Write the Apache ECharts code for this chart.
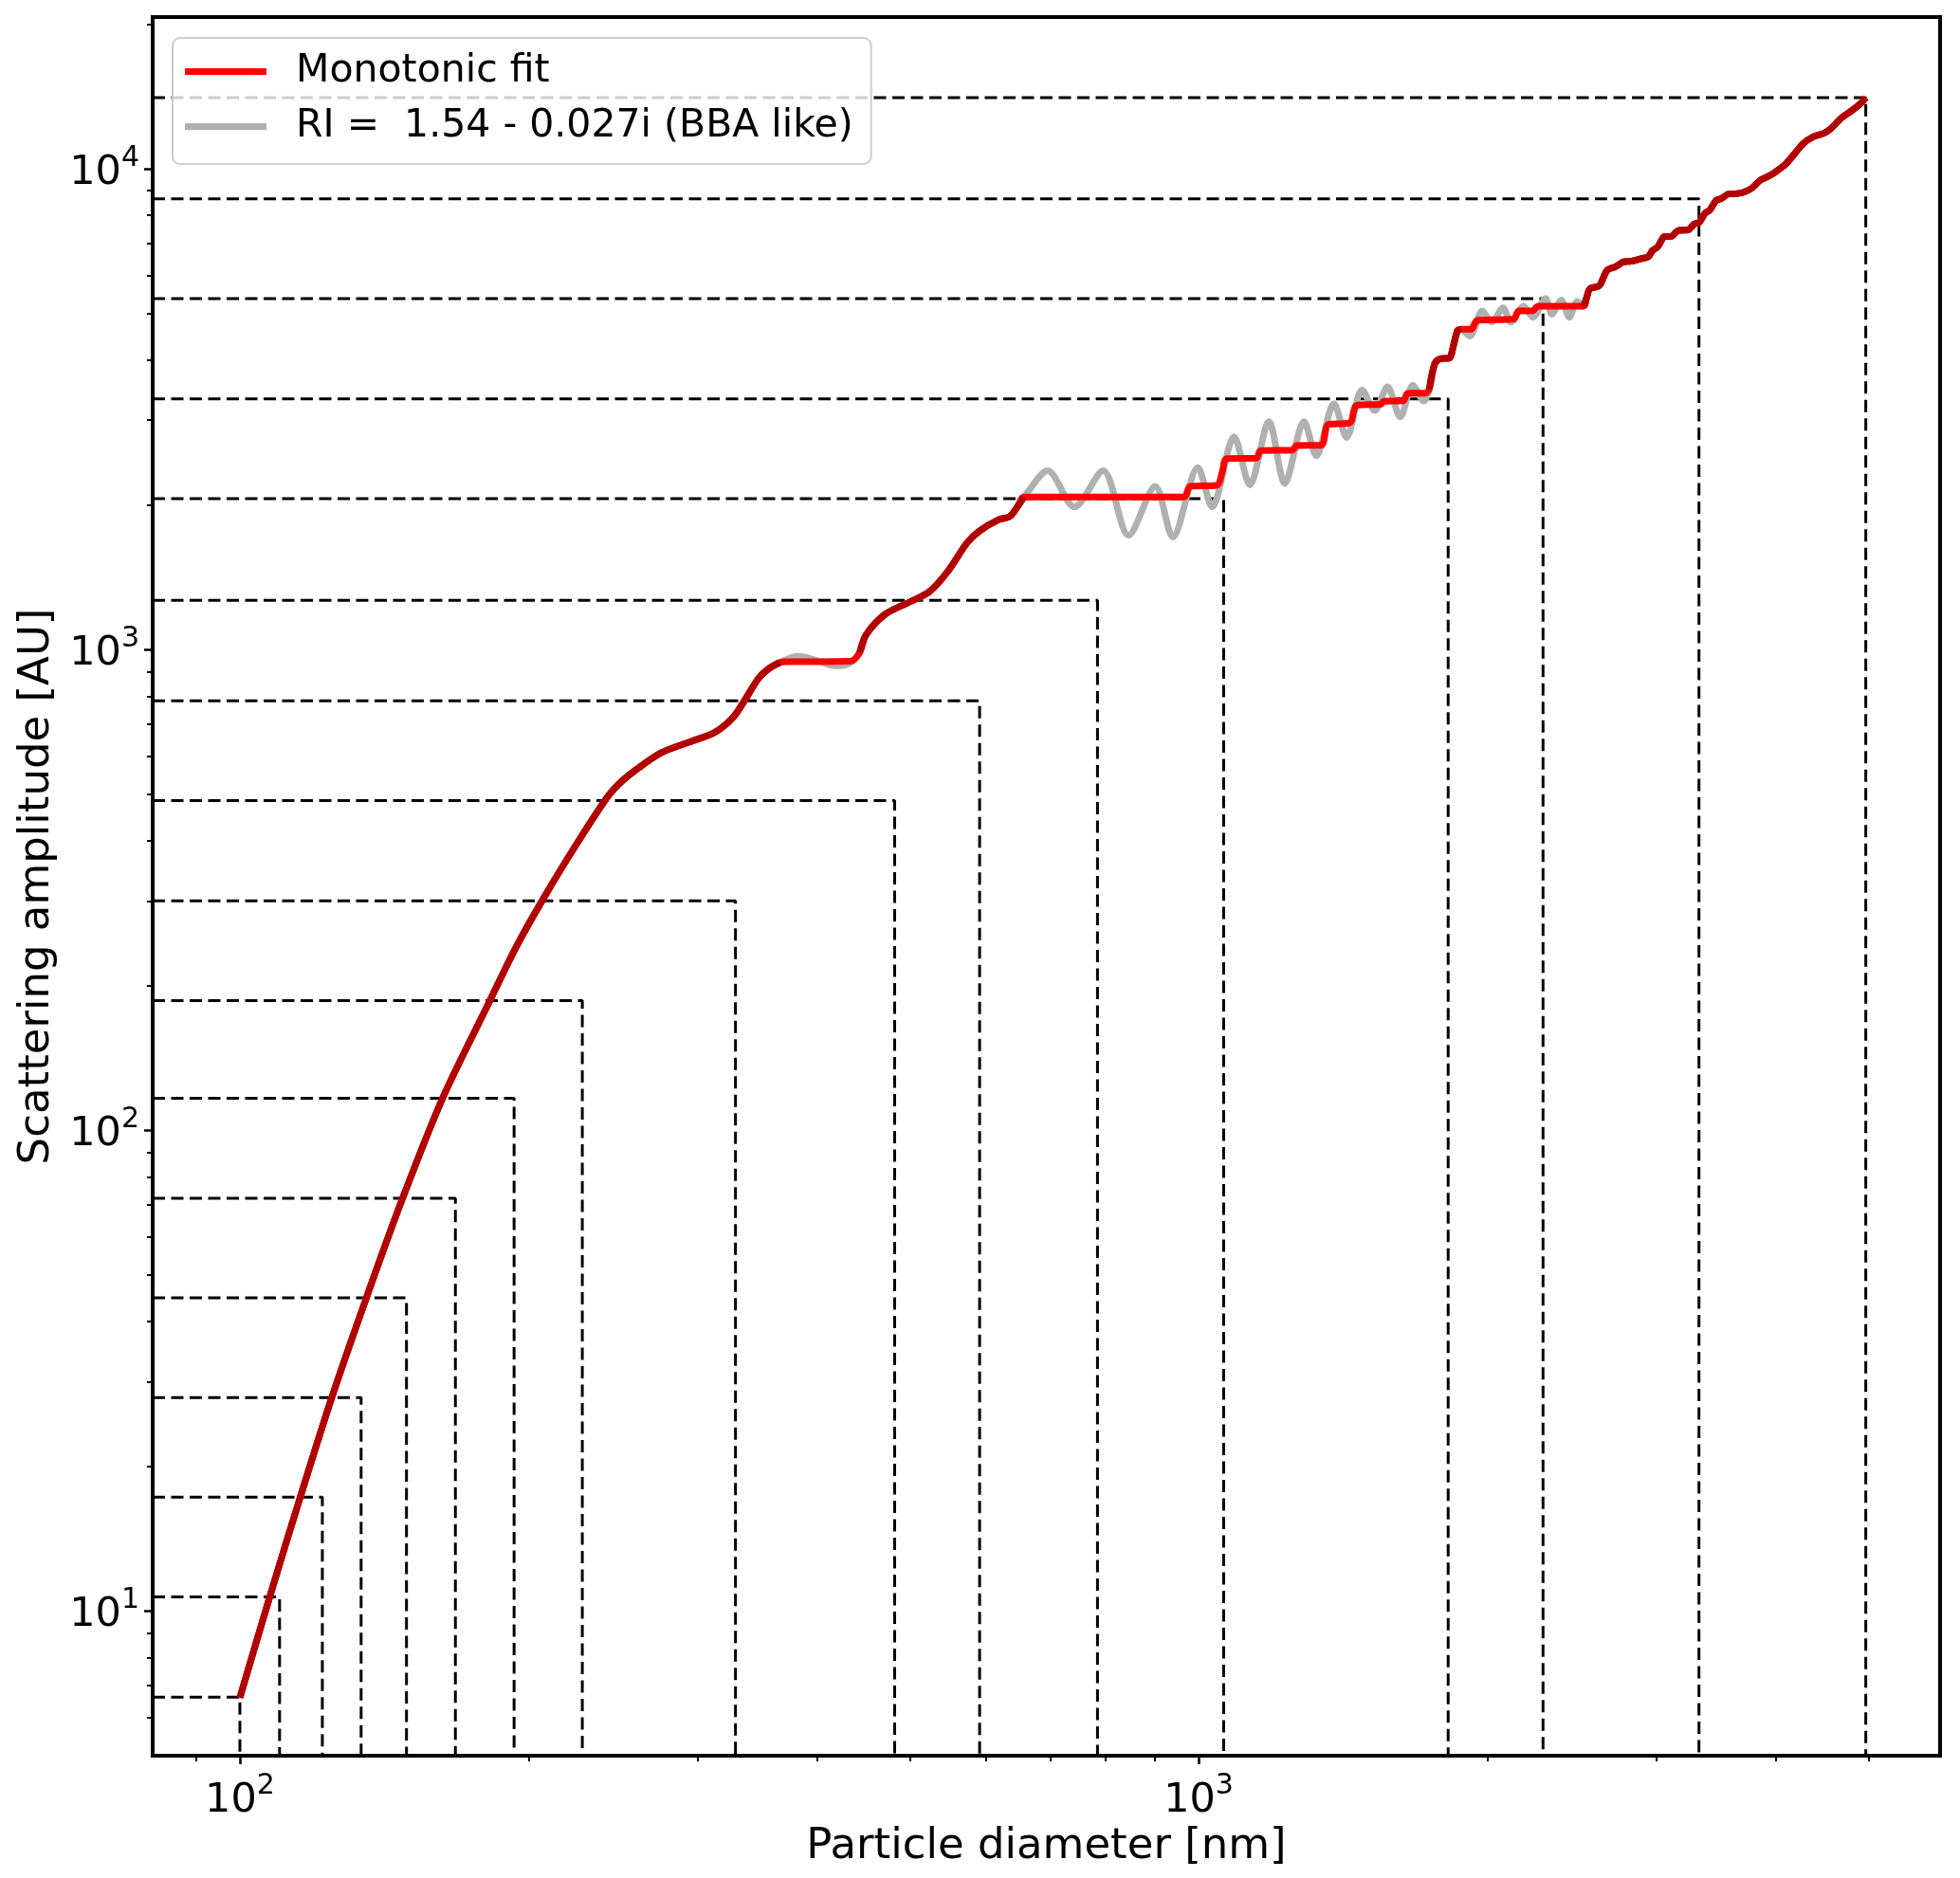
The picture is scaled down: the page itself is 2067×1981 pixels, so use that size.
<!DOCTYPE html>
<html>
<head>
<meta charset="utf-8">
<script src="https://cdn.jsdelivr.net/npm/echarts@6/dist/echarts.min.js"></script>
<style>
  html, body { margin: 0; padding: 0; background: #fff; }
  #chart { width: 2067px; height: 1981px; }
</style>
</head>
<body>
<div id="chart"></div>
<script>
// monotonic fit (red)
const fitDiam = [100, 107.5, 115.6, 124.7, 135.6, 147.9, 162.7, 182.3, 193.6, 207.4, 223.8, 241.3, 247.5, 254.6,
  274.7, 296.3, 312.6, 327, 337.2, 347.5, 357, 366, 372, 433, 443, 449.8, 470.8, 500.2, 523.6, 548.1, 573.6,
  591.3, 618.7, 635.3, 647, 657.5, 965, 980, 1044, 1058, 1070, 1149, 1160, 1253, 1266, 1342, 1366, 1437, 1462,
  1550, 1560, 1635, 1652, 1725, 1740, 1764, 1791, 1825, 1845, 1862, 1878, 1925, 1940, 1954, 2133, 2145, 2158,
  2233, 2246, 2259, 2520, 2540, 2559, 2618, 2645, 2669, 2720, 2772, 2825, 2889, 2944, 2975, 3010, 3040, 3058,
  3117, 3140, 3170, 3238, 3288, 3326, 3376, 3414, 3467, 3507, 3573, 3628, 3697, 3770, 3857, 3930, 4004, 4097,
  4192, 4273, 4371, 4487, 4557, 4680, 4805, 4897, 4965];
const fitAmp = [6.6, 10.75, 17.25, 27.8, 45, 72.4, 116.5, 186, 238, 304, 390, 491, 521, 548,
  609, 645, 672, 723, 792, 871, 915, 940, 943, 945, 985, 1072, 1183, 1257, 1318, 1458, 1668,
  1766, 1863, 1891, 1979, 2075, 2075, 2185, 2195, 2330, 2495, 2500, 2590, 2600, 2655, 2660, 2940, 2960, 3220,
  3240, 3285, 3290, 3410, 3415, 3480, 3940, 4030, 4035, 4300, 4600, 4640, 4640, 4760, 4840, 4870, 4980, 5060,
  5065, 5130, 5176, 5180, 5400, 5625, 5711, 5950, 6157, 6252, 6397, 6420, 6494, 6560, 6760, 6870, 7100, 7223,
  7240, 7350, 7446, 7460, 7673, 7730, 8088, 8210, 8597, 8660, 8861, 8870, 8928, 9092, 9480, 9650, 9876, 10230,
  10790, 11290, 11637, 11850, 12080, 12740, 13230, 13640, 14060];

// RI curve (grey) where it leaves the fit; elsewhere it follows the fit
const oscZones = [[366, 443], [657.5, 1740], [1878, 2520]];
const riDiam = [366, 382, 400, 418, 432, 443,
  657.5, 696, 742, 795, 845, 901, 940, 998, 1033, 1089, 1131, 1184, 1230, 1288, 1327, 1384, 1427, 1481, 1527,
  1574, 1623, 1673, 1718, 1740,
  1878, 1918, 1977, 2022, 2077, 2117, 2183, 2233, 2301, 2336, 2390, 2436, 2483, 2520];
const riAmp = [940, 968, 948, 924, 935, 985,
  2075, 2355, 1979, 2355, 1727, 2184, 1714, 2391, 1979, 2770, 2200, 2979, 2216, 2979, 2529, 3247, 2761, 3467, 3141,
  3520, 3047, 3544, 3287, 3480,
  4640, 4483, 5060, 4797, 5136, 4797, 5176, 4909, 5374, 4984, 5333, 4909, 5295, 5180];

// dashed bin corners
const binDiam = [100, 110, 121.9, 133.8, 149.2, 167.8, 193.2, 227.6, 328.8, 481.9, 591, 784.4, 1062, 1821, 2287, 3326, 4965];
const binAmp = [6.62, 10.7, 17.25, 27.8, 44.8, 72.2, 116.5, 186, 300, 485, 782, 1265, 2060, 3320, 5370, 8660, 14060];

const xMin = 81.1, xMax = 5935;
const yMin = 5.0, yMax = 20680;
const xTickMajor = [100, 1000];
const xTickMinor = [90, 200, 300, 400, 500, 600, 700, 800, 900, 2000, 3000, 4000, 5000];
const yTickMajor = [10, 100, 1000, 10000];
const yTickMinor = [6, 7, 8, 9, 20, 30, 40, 50, 60, 70, 80, 90, 200, 300, 400, 500, 600, 700, 800, 900,
  2000, 3000, 4000, 5000, 6000, 7000, 8000, 9000, 20000];

const fitName = 'Monotonic fit';
const riName = 'RI =  1.54 - 0.027i (BBA like)';
const FONT = 'DejaVu Sans';

function inZone(d) {
  return oscZones.some(z => d > z[0] && d < z[1]);
}

const fitData = fitDiam.map((d, i) => [d, fitAmp[i]]);
const riData = fitData.filter(p => !oscZones.some(z => p[0] >= z[0] && p[0] <= z[1]))
  .concat(riDiam.map((d, i) => [d, riAmp[i]]))
  .sort((a, b) => a[0] - b[0]);
// where both curves coincide the picture shows a darker red
const overlapData = fitData.map(p => inZone(p[0]) ? [p[0], '-'] : p);

const powLabel = {
  color: '#000',
  formatter: function (v) {
    return '{b|10}{s|' + Math.round(Math.log10(v)) + '}';
  },
  rich: {
    b: { fontSize: 43, fontFamily: FONT, color: '#000', lineHeight: 52, verticalAlign: 'bottom' },
    s: { fontSize: 30, fontFamily: FONT, color: '#000', lineHeight: 31, verticalAlign: 'top' }
  }
};

const dashSeries = binDiam.map((d, i) => ({
  type: 'line',
  data: [[xMin, binAmp[i]], [d, binAmp[i]], [d, yMin]],
  symbol: 'none',
  silent: true,
  z: 1,
  lineStyle: { color: '#000', width: 3, type: [13, 6.5] }
}));

const chart = echarts.init(document.getElementById('chart'), null, { renderer: 'canvas' });
const option = {
  backgroundColor: '#fff',
  animation: false,
  grid: {
    left: 161, right: 21, top: 18, bottom: 129,
    show: true, borderColor: '#000', borderWidth: 4, backgroundColor: 'transparent'
  },
  legend: {
    data: [
      { name: fitName, itemStyle: { color: '#ff0000' } },
      { name: riName, itemStyle: { color: '#b0b0b0' } }
    ],
    orient: 'vertical',
    left: 182, top: 40,
    padding: [15, 19, 19, 13],
    icon: 'rect',
    itemWidth: 86, itemHeight: 7, itemGap: 17,
    selectedMode: false,
    formatter: name => '  ' + name,
    textStyle: { fontSize: 41, fontFamily: FONT, color: '#000', lineHeight: 40 },
    backgroundColor: 'rgba(255,255,255,0.8)',
    borderColor: '#cccccc', borderWidth: 2, borderRadius: 8,
    z: 10
  },
  xAxis: [{
    type: 'log', logBase: 10, min: xMin, max: xMax, position: 'bottom',
    name: 'Particle diameter [nm]', nameLocation: 'middle', nameGap: 70,
    nameTextStyle: { fontSize: 45, fontFamily: FONT, color: '#000' },
    axisLine: { show: false },
    splitLine: { show: false },
    axisTick: { customValues: xTickMajor, length: 9, lineStyle: { color: '#000', width: 2.5 } },
    axisLabel: Object.assign({}, powLabel, { customValues: xTickMajor, margin: 17 })
  }, {
    type: 'log', logBase: 10, min: xMin, max: xMax, position: 'bottom',
    axisLine: { show: false }, splitLine: { show: false }, axisLabel: { show: false },
    axisTick: { customValues: xTickMinor, length: 6, lineStyle: { color: '#000', width: 2 } }
  }],
  yAxis: [{
    type: 'log', logBase: 10, min: yMin, max: yMax, position: 'left',
    name: 'Scattering amplitude [AU]', nameLocation: 'middle', nameGap: 98,
    nameTextStyle: { fontSize: 45, fontFamily: FONT, color: '#000' },
    axisLine: { show: false },
    splitLine: { show: false },
    axisTick: { customValues: yTickMajor, length: 9, lineStyle: { color: '#000', width: 2.5 } },
    axisLabel: Object.assign({}, powLabel, { customValues: yTickMajor, margin: 14 })
  }, {
    type: 'log', logBase: 10, min: yMin, max: yMax, position: 'left',
    axisLine: { show: false }, splitLine: { show: false }, axisLabel: { show: false },
    axisTick: { customValues: yTickMinor, length: 6, lineStyle: { color: '#000', width: 2 } }
  }],
  series: dashSeries.concat([
    {
      name: riName, type: 'line', data: riData, symbol: 'none', smooth: 0.3, z: 2,
      color: '#b0b0b0', lineStyle: { color: '#b0b0b0', width: 7 }
    },
    {
      name: fitName, type: 'line', data: fitData, symbol: 'none', smooth: 0.3, z: 3,
      color: '#ff0000', lineStyle: { color: '#ff0000', width: 7 }
    },
    {
      name: 'overlap', type: 'line', data: overlapData, symbol: 'none', smooth: 0.3, z: 4,
      color: '#b00000', lineStyle: { color: '#b00000', width: 7 }
    }
  ])
};
chart.setOption(option);
</script>
</body>
</html>
